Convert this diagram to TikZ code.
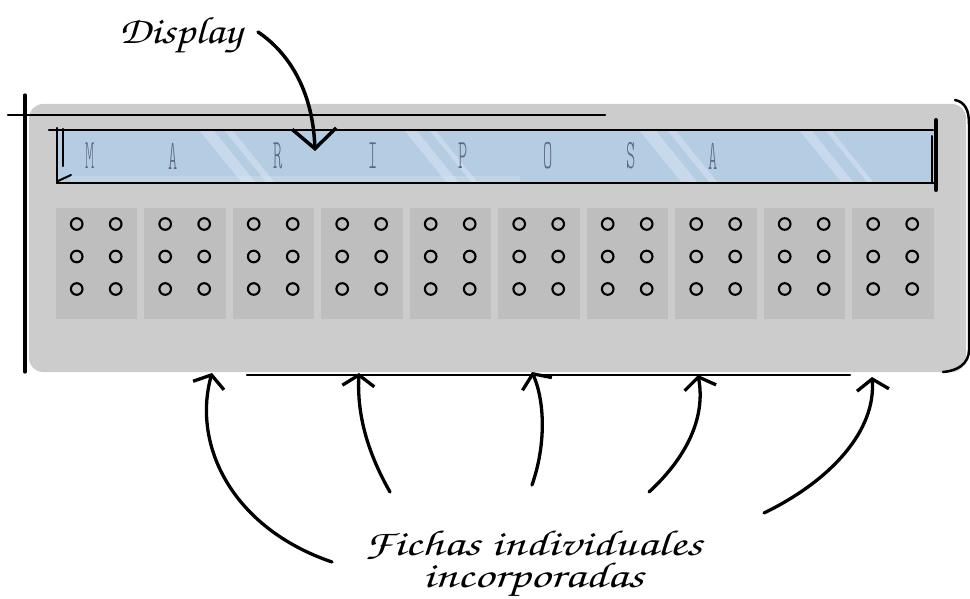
\documentclass[tikz,border=0pt]{standalone}
\usepackage[T1,TU]{fontenc}
\usepackage{fontspec}
\usetikzlibrary{arrows.meta}

\definecolor{caseGray}{RGB}{204,204,204}
\definecolor{cellGray}{RGB}{190,190,190}
\definecolor{lcdBlue}{RGB}{181,205,227}
\definecolor{lcdInk}{RGB}{90,106,126}

% calligraphic hand for the annotations
\newcommand\handfont{\fontencoding{T1}\fontfamily{pzc}\fontseries{mb}\fontshape{it}\selectfont}
% centred lines at a fixed pitch, base on the first line
\newcommand\twolines[2]{\vtop{\baselineskip=32pt\lineskiplimit=-60pt\lineskip=0pt
  \halign{\hfil##\hfil\cr #1\cr #2\cr}}}

\tikzset{
  case/.style={fill=caseGray, draw=none, rounded corners=14pt},
  cellbox/.style={fill=cellGray, draw=none},
  hole/.style={draw=black, line width=2.1pt},
  ink/.style={line width=3.3pt, line cap=round, line join=round, draw=black},
  pen/.style={line width=2.5pt, line cap=round, draw=black},
  upArrow/.style={ink, -{Straight Barb[length=11pt,width=32pt,line width=3.3pt]}},
  lcd/.style={text=lcdInk, inner sep=0pt, font=\ttfamily\fontseries{l}\fontsize{42}{42}\selectfont},
  hand/.style={inner sep=0pt, font=\handfont\fontsize{38}{32}\selectfont},
  handsmall/.style={inner sep=0pt, font=\handfont\fontsize{36}{32}\selectfont}
}

\begin{document}
\begin{tikzpicture}[x=1pt,y=-1pt]
\useasboundingbox (0,0) rectangle (970,599);

% device case
\fill[case] (29,104) rectangle (966,372);

% display window
\fill[lcdBlue] (58,131) rectangle (933,183);
\begin{scope}
  \clip (58,131) rectangle (933,183);
  \foreach \x/\w in {200/14,225/8,405/12,430/6,640/16,668/8,800/12,826/6}
    \fill[white, opacity=0.25] (\x,131) -- ++(\w,0) -- ++(42,52) -- ++(-\w,0) -- cycle;
  \fill[white, opacity=0.15] (70,176) rectangle (520,183);
\end{scope}

% characters shown on the display
\foreach \ch/\x [count=\k] in {M/90,A/173,R/278,I/373,P/463,O/548,S/631,A/713}
  \node[lcd] (ch\k) at (\x,156) {\scalebox{0.42}[1]{\ch}};

% sketch strokes around the display
\draw[pen] (49,130) -- (933,130);
\draw[pen] (57,183) -- (935,183);
\draw[pen] (57,128) -- (57,183);
\draw[pen, line width=2.2pt] (63,129) -- (63,166);
\draw[pen, line width=2pt] (58,181) -- (71,175);
\draw[pen, line width=4pt] (936,120) -- (936,190);
\draw[pen, line width=2pt] (932,136) -- (932,183);

% sketch strokes around the case
\draw[pen] (8,115) -- (605,115);
\draw[pen, line width=3.2pt] (25,95) -- (25,372);
\draw[pen] (955,100) .. controls (965,102) and (969,110) .. (969,124)
           -- (969,350) .. controls (969,364) and (957,371) .. (943,372);
\draw[pen] (247,375) -- (850,375);

% braille cells
\foreach \i in {0,...,9} {
  \fill[cellbox] ({55.7+88.5*\i},208) rectangle ++(81.5,111);
  \foreach \dx in {21,60}
    \foreach \y in {224,256.5,289}
      \draw[hole] ({55.7+88.5*\i+\dx},\y) circle (5.8pt);
}

% "Display" label and its arrow
\node[hand, anchor=base west] (disp) at (119,44) {\scalebox{1.17}[1]{Display}};
\coordinate (dispTail) at (258,32);
\coordinate (dispTip) at (315,151);
\draw[ink, line width=3.5pt, -{Straight Barb[length=20pt,width=44pt,line width=3.5pt]}]
  (dispTail) .. controls (292,55) and (313,95) .. (dispTip);

% label for the cells (two lines) and its arrows
\node[handsmall, anchor=base] (fichas) at (533,555)
  {\scalebox{1.37}[1]{\twolines{Fichas individuales}{incorporadas}}};

\coordinate (t1) at (332,562); \coordinate (h1) at (212,373);
\coordinate (t2) at (390,492); \coordinate (h2) at (359,373);
\coordinate (t3) at (532,485); \coordinate (h3) at (532,372);
\coordinate (t4) at (649,492); \coordinate (h4) at (698,375);
\coordinate (t5) at (764,513); \coordinate (h5) at (872,377);

\draw[upArrow] (t1) .. controls (232,528) and (192,445) .. (h1);
\draw[upArrow] (t2) .. controls (366,450) and (357,412) .. (h2);
\draw[upArrow] (t3) .. controls (546,445) and (545,402) .. (h3);
\draw[upArrow] (t4) .. controls (686,458) and (706,418) .. (h4);
\draw[upArrow] (t5) .. controls (832,480) and (876,430) .. (h5);
\end{tikzpicture}
\end{document}
